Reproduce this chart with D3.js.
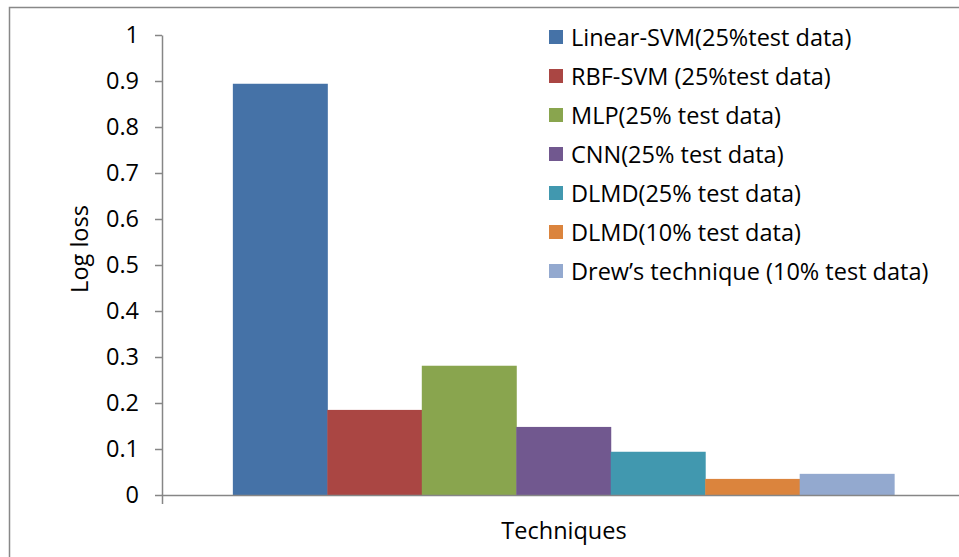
<!DOCTYPE html>
<html>
<head>
<meta charset="utf-8">
<script src="https://cdn.jsdelivr.net/npm/d3@7"></script>
<style>
  body { margin: 0; background: #fff; }
  svg text { font-family: "Open Sans", sans-serif; fill: #000; }
</style>
</head>
<body>
<script>
const width = 959
const height = 557

// one category, seven series
const categories = ["Techniques"]
const seriesNames = [
  "Linear-SVM(25%test data)",
  "RBF-SVM (25%test data)",
  "MLP(25% test data)",
  "CNN(25% test data)",
  "DLMD(25% test data)",
  "DLMD(10% test data)",
  "Drew\u2019s technique (10% test data)"
]
const logLoss = [0.894, 0.185, 0.281, 0.148, 0.094, 0.035, 0.046]
const colors = ["#4572A7", "#AA4643", "#89A54E", "#71588F", "#4198AF", "#DB843D", "#93A9CF"]
const yTicks = [0, 0.1, 0.2, 0.3, 0.4, 0.5, 0.6, 0.7, 0.8, 0.9, 1]

const plot = {left: 162, right: 965, top: 35, bottom: 495}
const fontSize = "23.5px"

const svg = d3.select("body").append("svg")
    .attr("width", width)
    .attr("height", height)

// chart border (right and bottom sides fall outside the picture)
svg.append("rect")
    .attr("x", 9.5)
    .attr("y", 7.5)
    .attr("width", 1000)
    .attr("height", 600)
    .attr("fill", "none")
    .attr("stroke", "#888")
    .attr("stroke-width", 1.5)

const y = d3.scaleLinear().domain([0, 1]).range([plot.bottom, plot.top])

const x0 = d3.scaleBand().domain(categories).range([plot.left, plot.right])

// Excel gap width 150% -> 0.75 bar on each side
const x1 = d3.scaleBand()
    .domain(seriesNames)
    .range([0, x0.bandwidth()])
    .paddingOuter(0.75)

svg.append("g")
    .selectAll("rect")
    .data(seriesNames.map(function (name, i) {
      return {cat: categories[0], name: name, value: logLoss[i], color: colors[i]}
    }))
    .enter()
    .append("rect")
    .attr("x", function (d) { return x0(d.cat) + x1(d.name) })
    .attr("y", function (d) { return y(d.value) })
    .attr("width", x1.bandwidth() + 0.5)
    .attr("height", function (d) { return y(0) - y(d.value) })
    .attr("fill", function (d) { return d.color })

// y axis
const yAxis = svg.append("g")
    .attr("transform", `translate(${plot.left},0)`)
    .call(d3.axisLeft(y)
      .tickValues(yTicks)
      .tickFormat(function (d) { return String(d) })
      .tickSize(7)
      .tickSizeOuter(0)
      .tickPadding(16))

yAxis.selectAll("text")
    .attr("font-size", fontSize)
    .attr("font-family", "'Open Sans', sans-serif")
yAxis.selectAll("line, path").attr("stroke", "#868686").attr("stroke-width", 1.5)

// x axis: line with boundary ticks only
const xAxis = svg.append("g")
    .attr("transform", `translate(0,${plot.bottom})`)
    .call(d3.axisBottom(x0).tickValues([]).tickSizeOuter(9))
xAxis.select("path").attr("stroke", "#868686").attr("stroke-width", 1.5)

// axis titles
svg.append("text")
    .attr("transform", "translate(88,249) rotate(-90)")
    .attr("text-anchor", "middle")
    .attr("font-size", fontSize)
    .text("Log loss")

svg.append("text")
    .attr("x", 564)
    .attr("y", 539)
    .attr("text-anchor", "middle")
    .attr("font-size", fontSize)
    .text("Techniques")

// legend
const legend = svg.append("g")
    .selectAll("g")
    .data(seriesNames)
    .enter()
    .append("g")
    .attr("transform", function (d, i) { return `translate(549,${37 + i * 39})` })

legend.append("rect")
    .attr("x", 0)
    .attr("y", -7)
    .attr("width", 14)
    .attr("height", 14)
    .attr("fill", function (d, i) { return colors[i] })

legend.append("text")
    .attr("x", 22)
    .attr("y", 8.5)
    .attr("font-size", fontSize)
    .text(function (d) { return d })
</script>
</body>
</html>
